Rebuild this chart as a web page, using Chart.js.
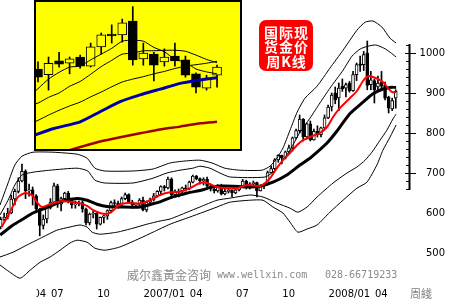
<!DOCTYPE html>
<html><head><meta charset="utf-8">
<script src="https://cdn.jsdelivr.net/npm/chart.js@4.4.0/dist/chart.umd.min.js"></script>
<style>
html,body{margin:0;padding:0;background:#fff;}
#wrap{position:relative;width:450px;height:300px;overflow:hidden;background:#fff;}
#main{position:absolute;left:0;top:0;}
#inset{position:absolute;left:34px;top:0;width:208px;height:151px;background:#ffff00;}
#insetC{position:absolute;left:0;top:0;}
#insetBorder{position:absolute;left:34px;top:0;width:208px;height:151px;border:2px solid #000;box-sizing:border-box;}
#tag{position:absolute;left:259px;top:20px;width:54px;height:51px;background:#ff0000;border-radius:7px;color:#fff;
 font-family:"Noto Sans CJK SC";font-weight:bold;font-size:14px;line-height:14.5px;letter-spacing:1px;text-align:center;padding-top:4.5px;padding-left:1px;box-sizing:border-box;white-space:nowrap;}
</style></head>
<body><div id="wrap">
<canvas id="main" width="450" height="300"></canvas>
<div id="inset"><canvas id="insetC" width="208" height="151"></canvas></div>
<div id="insetBorder"></div>
<div id="tag">国际现<br>货金价<br>周K线</div>
</div>
<script>
// ---- weekly candles (index 0 = week of 2006-03-31) ----
const opens = [565,584,590,600,635,654,680,704,655,658, 643,610,569,585,614,627,668,622,636,650,
 633,620,623,626,610,575,597,599,572,589, 593,606,626,624,619,636,646,627,620,622,
 632,608,627,633,643,654,666,663,685,646, 652,655,663,660,677,692,686,680,684,668,
 660,655,669,648,654,657,650,658,666,680, 665,673,676,655,667,672,701,711,733,744,
 737,753,763,788,806,835,790,823,783,804, 796,813,838,865,900,888,917,912,925,906,
 946,973,971,1000,921,931,915,927,919,890, 860,887];
const highs = [590,600,612,645,660,688,722,708,672,665, 646,612,595,616,636,675,672,640,652,654,
 636,630,630,630,612,600,605,601,590,595, 608,630,633,630,640,650,648,632,625,636,
 640,630,637,649,656,668,669,690,688,658, 660,665,670,680,695,694,688,688,690,672,
 664,671,672,660,660,658,660,668,684,682, 676,680,677,670,674,705,718,736,746,745,
 755,770,790,810,845,836,825,830,810,818, 815,845,870,900,915,925,935,925,929,954,
 975,992,1004,1030,954,935,942,954,927,892, 887,908];
const lows = [560,580,585,598,620,650,678,636,642,620, 605,543,560,575,610,625,614,605,631,625,
 612,612,618,602,570,570,588,560,570,575, 584,600,615,612,617,633,625,612,614,618,
 605,603,622,630,640,648,655,660,636,640, 640,650,655,658,675,683,672,670,665,655,
 650,652,645,645,650,640,648,655,664,660, 660,665,640,655,661,670,700,708,727,723,
 735,750,755,785,800,780,785,780,782,790, 790,810,836,855,873,856,904,890,902,904,
 931,954,956,908,908,875,906,906,883,850, 856,862];
const closes = [584,590,600,635,654,680,704,655,658,643, 610,569,585,614,627,668,622,636,650,633,
 620,623,626,610,575,597,599,572,589,593, 606,626,624,619,636,646,627,620,622,632,
 608,627,633,643,654,666,663,685,646,652, 655,663,660,677,692,686,680,684,668,660,
 655,669,648,654,657,650,658,666,680,665, 673,676,655,667,672,701,711,733,744,737,
 753,763,788,806,835,790,823,783,804,796, 813,838,865,895,883,912,910,921,906,946,
 971,969,996,919,933,908,925,917,887,862, 881,904];

// ---- lines: [week index, price] ----
const redLine = [[0.3,565],[2.6,602],[4.9,640],[6.9,650],[8.8,645],[10.2,627],[11.6,615],[13.9,622],[15.8,627],[17.5,630],
 [19.5,628],[21.5,626],[24.3,618],[26,607],[27.9,600],[29.9,598],[31.5,605],[33.5,622],[36,625],[39.2,624],[42,632],
 [44.8,645],[47.6,652],[50.4,653],[53.2,662],[56,675],[58,675],[60.8,665],[63.6,662],[66.4,662],[69.2,670],[72.9,667],
 [74.3,675],[75.7,687],[77.6,712],[79.3,732],[81.3,750],[83.3,770],[85,782],[86.9,790],[89.7,800],[91.7,815],[93.4,840],
 [95.3,862],[98.1,887],[100.1,905],[101.8,930],[103.2,942],[104.6,940],[106.6,932],[107.7,925],[108.8,912],[110,902],[111.1,902]];
const blackLine = [[-0.1,545],[3.5,570],[6.3,585],[9.1,600],[11.9,610],[14.7,620],[17.5,630],[21.5,636],[24.3,632],[27.1,622],
 [29.9,616],[33.5,615],[39.2,615],[42.8,623],[44.8,628],[47.6,638],[50.4,645],[52.4,650],[56.9,658],[58.8,664],[60.8,667],
 [65.3,667],[69.2,665],[72.9,667],[76.5,677],[80.4,695],[84.1,720],[86.9,737],[88.9,752],[91.7,775],[94.5,805],[98.1,848],
 [101.8,877],[104.6,898],[107.4,910],[109.4,914],[111.1,914]];
const upperOuter = [[-0.17,620],[2.1,675],[4,720],[6,742],[9.1,752],[14.7,752],[21.5,747],[24.3,737],[26.5,712],[29.3,705],
 [37.2,705],[42.8,710],[47.6,725],[51.8,730],[56,732],[59.4,725],[63,712],[67.2,707],[73.4,707],[75.7,717],[77.6,737],
 [79.3,762],[81.3,807],[83.3,852],[85.5,887],[88.9,917],[92.5,962],[96.2,1007],[100.1,1057],[102.4,1077],[104.6,1080],
 [107.1,1065],[109.4,1037],[111.1,1025]];
const upperInner = [[-0.17,595],[2.1,632],[4,670],[6,695],[9.1,702],[13.9,707],[21.5,712],[24.5,705],[26.5,682],[29.3,675],
 [37.2,675],[42.8,687],[46.7,700],[50.4,707],[54,712],[56,717],[58.8,712],[61.6,700],[64.4,690],[74.3,690],[77.1,707],
 [79.3,732],[81.3,757],[84.1,802],[86.9,837],[89.7,875],[92.5,912],[96.2,957],[98.7,992],[101,1010],[103.2,1017],
 [105.4,1020],[107.7,1012],[109.4,1002],[111.1,990]];
const lowerInner = [[-0.17,490],[3.5,502],[7.4,520],[11.9,540],[15.8,557],[19.5,565],[22.3,570],[24.3,565],[25.7,552],[27.9,547],
 [32.7,552],[37.2,562],[41.1,572],[44.8,580],[47.6,585],[52.4,602],[56,615],[60.8,632],[64.4,637],[70.1,645],[73.7,640],
 [77.6,625],[81.3,612],[83.5,602],[86.1,615],[88.9,640],[93.4,675],[97.3,700],[100.1,715],[102.4,732],[104.3,752],
 [106.6,782],[108.5,807],[110.2,835],[111.1,847]];
const lowerOuter = [[-0.17,470],[2.6,452],[5.5,437],[8.3,457],[11.1,477],[13.9,490],[16.7,507],[19.5,525],[21.5,532],[24.3,527],
 [26.5,512],[29.3,507],[33.5,515],[39.2,537],[42.8,552],[47.6,572],[53.2,590],[56.9,602],[60.8,615],[64.4,627],[70.1,632],
 [73.7,632],[76.5,615],[79.3,600],[81.3,577],[83.5,552],[86.1,560],[88.9,570],[92.5,602],[96.2,632],[100.1,662],[102.9,677],
 [105.7,720],[107.4,757],[109.4,790],[111.1,820]];

// ---- axis text ----
const yTicks = [500,600,700,800,900,1000];
const xTickWeeks = [1,14,27,40,53,66,79,92,105];
const xTickLabels = ['2006/04','07','10','2007/01','04','07','10','2008/01','04'];

// ---- inset: last 18 weeks, with its averages ----
const insetFirst = 94;
const insetMA5  = [841,859,879,893,904,906,919,931,943,958,960,958,945,936,920,914,900,894,890];
const insetMA10 = [824,829,841,850,864,874,889,905,918,931,933,938,938,939,939,937,929,920,913];
const insetMA20 = [783,793,804,814,823,831,842,852,863,873,879,884,890,895,901,906,909,912,916];
const insetBlue = [[-1,757],[1.5,776],[4,790],[5.9,811],[7.8,832],[9.7,846],[11.6,858],[13.5,870],[15.4,877],[17,882]];
const insetDarkRed = [[-1,705],[3,731],[5.9,749],[7.8,758],[9.7,766],[11.6,774],[13.5,780],[15.4,787],[17,790]];

const pts = a => a.map(p => ({x:p[0], y:p[1]}));
const seq = (a, start) => a.map((v,k) => ({x:start+k, y:v}));
const lineDs = (data, color, width, order) => ({type:'line', data, borderColor:color, borderWidth:width,
  pointRadius:0, tension:0.2, fill:false, order});

function candleSets(o,h,l,c,upFill,bodyW){
  return [
    {type:'bar', data:l.map((v,i)=>({x:i, y:[v,h[i]]})), backgroundColor:'#000', barThickness:1, grouped:false, order:9},
    {type:'bar', data:o.map((v,i)=>({x:i, y:[v,c[i]]})), backgroundColor:o.map((v,i)=> c[i]>=v ? upFill : '#000'),
     borderColor:'#000', borderWidth:1, borderSkipped:false, barThickness:bodyW, grouped:false, order:8}
  ];
}

const decor = {
  id:'decor',
  afterDraw(chart){
    const ctx = chart.ctx, ys = chart.scales.y, xs = chart.scales.x;
    ctx.save();
    ctx.fillStyle = '#000';
    const top = Math.round(ys.getPixelForValue(1022)), bot = Math.round(ys.getPixelForValue(657));
    ctx.fillRect(408.5, top, 2, bot-top);
    for (let v = 660; v <= 1020; v += 20){
      const py = Math.round(ys.getPixelForValue(v));
      if (v % 100 === 0) ctx.fillRect(405, py, 11, 1); else ctx.fillRect(406, py, 3, 1);
    }
    ctx.font = '10px "DejaVu Sans"';
    ctx.textAlign = 'right'; ctx.textBaseline = 'middle';
    yTicks.forEach(v => ctx.fillText(String(v), 445, ys.getPixelForValue(v)));
    ctx.save();
    ctx.beginPath(); ctx.rect(36.5, 280, 380, 20); ctx.clip();
    ctx.textAlign = 'left';
    xTickWeeks.forEach((w,k) => ctx.fillText(xTickLabels[k], xs.getPixelForValue(w)+0.5, 294));
    ctx.restore();
    ctx.fillStyle = '#808080';
    ctx.textAlign = 'left'; ctx.textBaseline = 'middle';
    ctx.font = '11px "Noto Sans CJK SC"';
    ctx.fillText('周綫', 410, 294);
    ctx.font = '12px "Noto Sans CJK SC"';
    ctx.fillStyle = '#8a8a8a';
    ctx.fillText('威尔鑫黃金咨询', 127, 275);
    ctx.font = '10px "DejaVu Sans Mono"';
    ctx.fillText('www.wellxin.com', 217, 275);
    ctx.fillText('028-66719233', 325, 275);
    ctx.restore();
  }
};

const baseOpts = (xmin,xmax,ymin,ymax) => ({
  responsive:false, animation:false, devicePixelRatio:1,
  layout:{padding:0, autoPadding:false},
  plugins:{legend:{display:false}, tooltip:{enabled:false}},
  scales:{
    x:{type:'linear', min:xmin, max:xmax, display:false, offset:false, grid:{display:false}},
    y:{type:'linear', min:ymin, max:ymax, display:false, grid:{display:false}}
  }
});

new Chart(document.getElementById('main'), {
  type:'bar',
  data:{datasets:[
    ...candleSets(opens,highs,lows,closes,'#ffffff',3),
    lineDs(pts(upperOuter),'#000',1,4),
    lineDs(pts(upperInner),'#000',1,4),
    lineDs(pts(lowerInner),'#000',1,4),
    lineDs(pts(lowerOuter),'#000',1,4),
    lineDs(pts(blackLine),'#000',3,2),
    lineDs(pts(redLine),'#ff0000',2,1)
  ]},
  options: baseOpts(-0.1685, 126.24, 382.5, 1132.5),
  plugins:[decor]
});

const io = opens.slice(insetFirst), ih = highs.slice(insetFirst), il = lows.slice(insetFirst), ic = closes.slice(insetFirst);
new Chart(document.getElementById('insetC'), {
  type:'bar',
  data:{datasets:[
    ...candleSets(io,ih,il,ic,'#ffff00',9),
    lineDs(seq(insetMA5,-1),'#000',1,3),
    lineDs(seq(insetMA10,-1),'#000',1,3),
    lineDs(seq(insetMA20,-1),'#000',1,3),
    lineDs(pts(insetDarkRed),'#990000',2.5,2),
    lineDs(pts(insetBlue),'#0000a8',3,1)
  ]},
  options: baseOpts(-0.38, 19.37, 729.2, 1043.75)
});
</script>
</body></html>
